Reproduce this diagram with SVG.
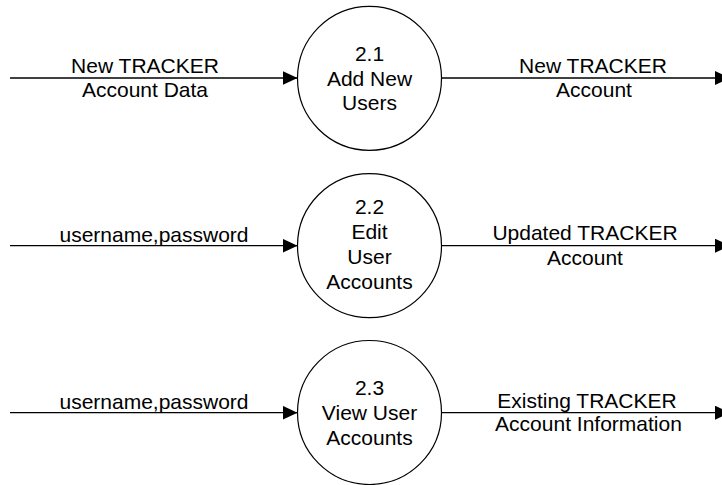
<svg xmlns="http://www.w3.org/2000/svg" width="722" height="485" viewBox="0 0 722 485">
<defs>
<marker id="arr" markerUnits="userSpaceOnUse" markerWidth="15" markerHeight="14" refX="15" refY="7" orient="auto">
<path d="M0,0 L15,7 L0,14 z" fill="#000"/>
</marker>
<style>
.proc{fill:#fff;stroke:#000;stroke-width:1.2}
.flow{fill:none;stroke:#000;stroke-width:1.3;marker-end:url(#arr)}
text{font-family:"Liberation Sans",Arial,sans-serif;font-size:21px;fill:#000;text-anchor:middle}
</style>
</defs>
<rect width="722" height="485" fill="#fff"/>
<g id="connectors">
<line class="flow" x1="10" y1="78" x2="297.5" y2="78"/>
<line class="flow" x1="441.5" y1="78" x2="730" y2="78"/>
<line class="flow" x1="10" y1="245.7" x2="297.5" y2="245.7"/>
<line class="flow" x1="441.5" y1="245.7" x2="730" y2="245.7"/>
<line class="flow" x1="10" y1="412.7" x2="297.5" y2="412.7"/>
<line class="flow" x1="441.5" y1="412.7" x2="730" y2="412.7"/>
<text x="145" y="73">New TRACKER</text>
<text x="145" y="97">Account Data</text>
<text x="593" y="73">New TRACKER</text>
<text x="594" y="97">Account</text>
<text x="154" y="242">username,password</text>
<text x="585" y="240">Updated TRACKER</text>
<text x="585" y="265">Account</text>
<text x="154" y="409">username,password</text>
<text x="587" y="408">Existing TRACKER</text>
<text x="588.5" y="431">Account Information</text>
</g>
<g id="p21">
<circle class="proc" cx="369.5" cy="78.3" r="72"/>
<text x="369.5" y="61">2.1</text>
<text x="369.5" y="86">Add New</text>
<text x="369.5" y="110">Users</text>
</g>
<g id="p22">
<circle class="proc" cx="369.5" cy="245.7" r="72"/>
<text x="369.5" y="214">2.2</text>
<text x="369.5" y="239">Edit</text>
<text x="369.5" y="264">User</text>
<text x="369.5" y="289">Accounts</text>
</g>
<g id="p23">
<circle class="proc" cx="369.5" cy="412.5" r="72"/>
<text x="369.5" y="395">2.3</text>
<text x="369.5" y="420">View User</text>
<text x="369.5" y="445">Accounts</text>
</g>
</svg>
